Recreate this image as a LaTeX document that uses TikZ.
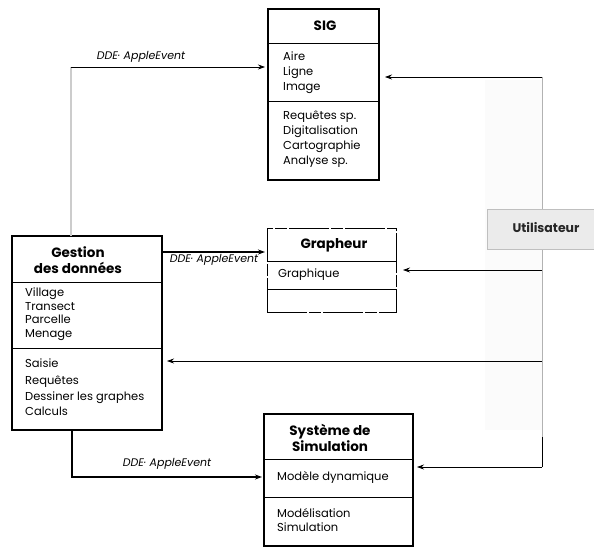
\documentclass[tikz,border=0pt]{standalone}
\usepackage{fontspec}
\setmainfont{Poppins}
\usetikzlibrary{arrows.meta}
\begin{document}
\begin{tikzpicture}[x=1pt,y=-1pt,
  box/.style={draw, line width=1.2pt, inner sep=0pt, outer sep=0pt, anchor=north west},
  dbox/.style={box, line width=0.7pt, dash pattern=on 40pt off 2pt on 12pt off 2pt},
  sep/.style={line width=1pt},
  item/.style={anchor=mid west, inner sep=0pt, font=\fontsize{11.5}{13}\selectfont},
  boxtitle/.style={anchor=center, inner sep=0pt, align=center, font=\bfseries\fontsize{13.5}{16}\selectfont},
  lbl/.style={inner sep=0pt, font=\itshape\fontsize{11}{12}\selectfont},
  tip/.style={-{Stealth[length=7pt,width=5pt]}},
  link/.style={tip, line width=0.7pt},
  ddelink/.style={tip, line width=1.6pt},
  bus/.style={line width=0.8pt, draw=gray!60}
]
\useasboundingbox (0,0) rectangle (594,549);

% faint column behind the user bus
\fill[gray!3] (485,80) rectangle (542,430);

% ---- SIG
\node[box, minimum width=111pt, minimum height=171pt] (sig) at (268,9) {};
\draw[sep] (sig.west |- 0,43) -- (sig.east |- 0,43);
\draw[sep] (sig.west |- 0,101) -- (sig.east |- 0,101);
\node[boxtitle] (sigt) at (325,26) {SIG};
\node[item] (s1) at (283,58) {Aire};
\node[item] (s2) at (283,73) {Ligne};
\node[item] (s3) at (283,88) {Image};
\node[item] (s4) at (283,117) {Requêtes sp.};
\node[item] (s5) at (283,132) {Digitalisation};
\node[item] (s6) at (283,147) {Cartographie};
\node[item] (s7) at (283,162) {Analyse sp.};

% ---- Gestion des données
\node[box, minimum width=150pt, minimum height=194pt] (gest) at (12,236) {};
\draw[sep] (gest.west |- 0,282) -- (gest.east |- 0,282);
\draw[sep] (gest.west |- 0,348) -- (gest.east |- 0,348);
\node[boxtitle] (gestt) at (78,260) {Gestion\\des données};
\node[item] (g1) at (25,294) {Village};
\node[item] (g2) at (25,308) {Transect};
\node[item] (g3) at (25,321) {Parcelle};
\node[item] (g4) at (25,335) {Menage};
\node[item] (g5) at (25,365) {Saisie};
\node[item] (g6) at (25,382) {Requêtes};
\node[item] (g7) at (25,398) {Dessiner les graphes};
\node[item] (g8) at (25,413) {Calculs};

% ---- Grapheur
\node[dbox, minimum width=129pt, minimum height=84pt] (graph) at (267,228) {};
\draw[sep, line width=0.8pt] (graph.west |- 0,261) -- (graph.east |- 0,261);
\draw[sep, line width=0.8pt] (graph.west |- 0,289) -- (graph.east |- 0,289);
\node[boxtitle] (grapht) at (334,245) {Grapheur};
\node[item] (gr1) at (278,275) {Graphique};

% ---- Système de Simulation
\node[box, minimum width=149pt, minimum height=132pt] (sim) at (264,414) {};
\draw[sep] (sim.west |- 0,459) -- (sim.east |- 0,459);
\draw[sep] (sim.west |- 0,497) -- (sim.east |- 0,497);
\node[boxtitle] (simt) at (330,438) {Système de\\Simulation};
\node[item] (m1) at (277,478) {Modèle dynamique};
\node[item] (m2) at (277,515) {Modélisation};
\node[item] (m3) at (277,529) {Simulation};

% ---- Utilisateur and its bus
\coordinate (busTop) at (542,77);
\coordinate (busGr) at (542,270);
\coordinate (busGe) at (542,361);
\coordinate (busBot) at (542,467);
\draw[bus] (busTop) -- (busBot);
\draw[line width=0.8pt] ([yshift=30pt]busBot) -- (busBot);
\node[box, line width=0.8pt, draw=gray!50, fill=gray!16, minimum width=113pt, minimum height=40pt] (user) at (487,209) {};
\node[inner sep=0pt, font=\bfseries\fontsize{12.5}{14}\selectfont, text=black!85] (usert) at (546,228) {Utilisateur};

\draw[link, shorten >=6pt] (busTop) -- (sig.east |- busTop);
\draw[link, shorten >=7pt] (busGr) -- (graph.east |- busGr);
\draw[link, shorten >=5pt] (busGe) -- (gest.east |- busGe);
\draw[link, shorten >=4pt] (busBot) -- (sim.east |- busBot);

% ---- DDE links from Gestion des données
\coordinate (gtop) at (71,67);
\draw[gray!40, line width=1.8pt] (gest.north -| gtop) -- (gtop);
\draw[link, shorten >=3pt] (gtop) -- (sig.west |- gtop);
\node[lbl] (l1) at (141,57) {DDE· AppleEvent};

\draw[ddelink, shorten >=2pt] ([yshift=-16pt]gest.north east) -- ([yshift=-16pt]gest.north east -| graph.west);
\node[lbl] (l2) at (214,260) {DDE· AppleEvent};

\draw[ddelink, shorten >=2pt] ([xshift=60pt]gest.south west) |- ([yshift=-63pt]sim.north west);
\node[lbl] (l3) at (167,464) {DDE· AppleEvent};
\end{tikzpicture}
\end{document}
